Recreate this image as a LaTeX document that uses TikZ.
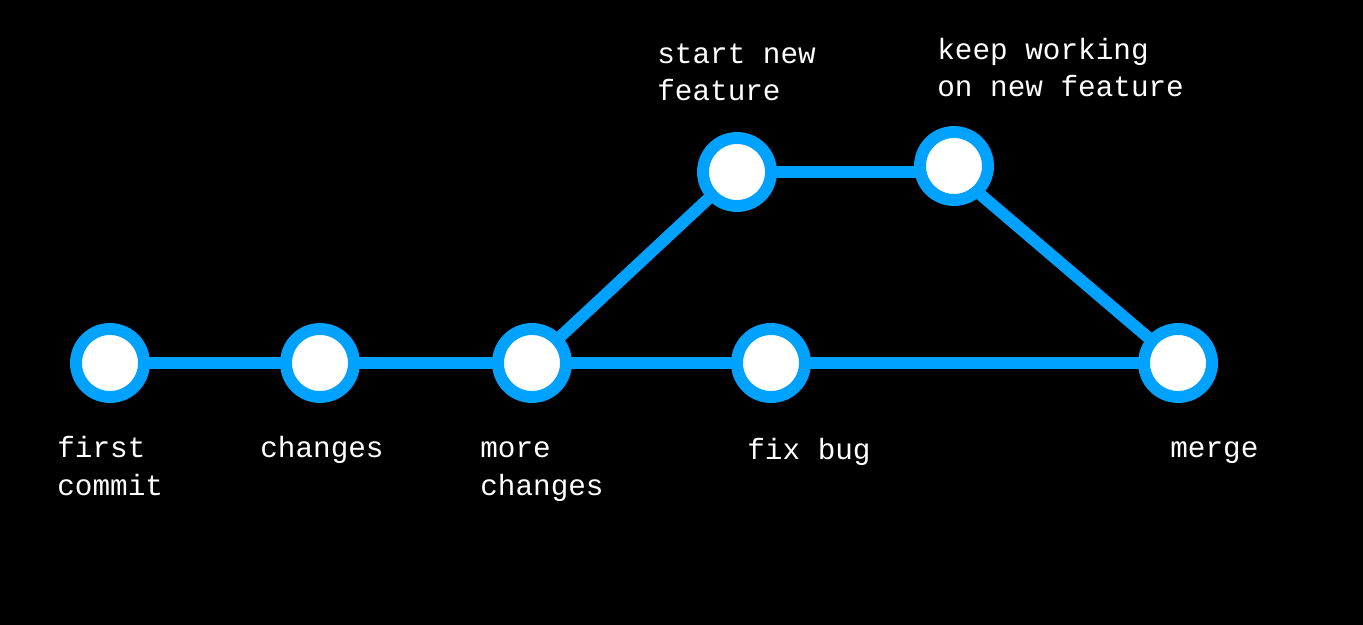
\documentclass[tikz,border=0pt]{standalone}
\usepackage{fontspec}
\setmonofont{Liberation Mono}
\usetikzlibrary{backgrounds}
\definecolor{gitBlue}{HTML}{00A2FF}
\tikzset{
    commit/.style={circle, draw=gitBlue, fill=white, line width=6.8pt, minimum size=1.36cm, inner sep=0pt},
    branch/.style={draw=gitBlue, line width=6.8pt},
    clabel/.style={text=white, anchor=base west, inner sep=0pt, align=left, font=\ttfamily\fontsize{16.7}{21.5}\selectfont}
}
\begin{document}
\begin{tikzpicture}[x=0.02cm, y=-0.02cm]
    \useasboundingbox (0,0) rectangle (1363,625);
    % commits on the main line
    \foreach \n/\x in {c1/110,c2/320,c3/532,c4/771,c5/1178}{
        \node[commit] (\n) at (\x,363) {};
    }
    % feature branch
    \node[commit] (f1) at (737,172) {};
    \node[commit] (f2) at (954,166) {};
    \begin{scope}[on background layer]
        \fill[black] (0,0) rectangle (1363,625);
        \draw[branch] (c1.center) -- (c2.center) -- (c3.center) -- (c4.center) -- (c5.center);
        \draw[branch] (c3.center) -- (f1.center) -- (f1.center -| f2.center) -- (c5.center);
    \end{scope}
    % labels (base is the last line)
    \node[clabel] (l1) at (57,495) {first\\commit};
    \node[clabel] (l2) at (260,457) {changes};
    \node[clabel] (l3) at (480,495) {more\\changes};
    \node[clabel] (l4) at (747,459) {fix bug};
    \node[clabel] (l5) at (1170,457) {merge};
    \node[clabel] (l6) at (657,101) {start new\\feature};
    \node[clabel] (l7) at (937,97) {keep working\\on new feature};
\end{tikzpicture}
\end{document}
